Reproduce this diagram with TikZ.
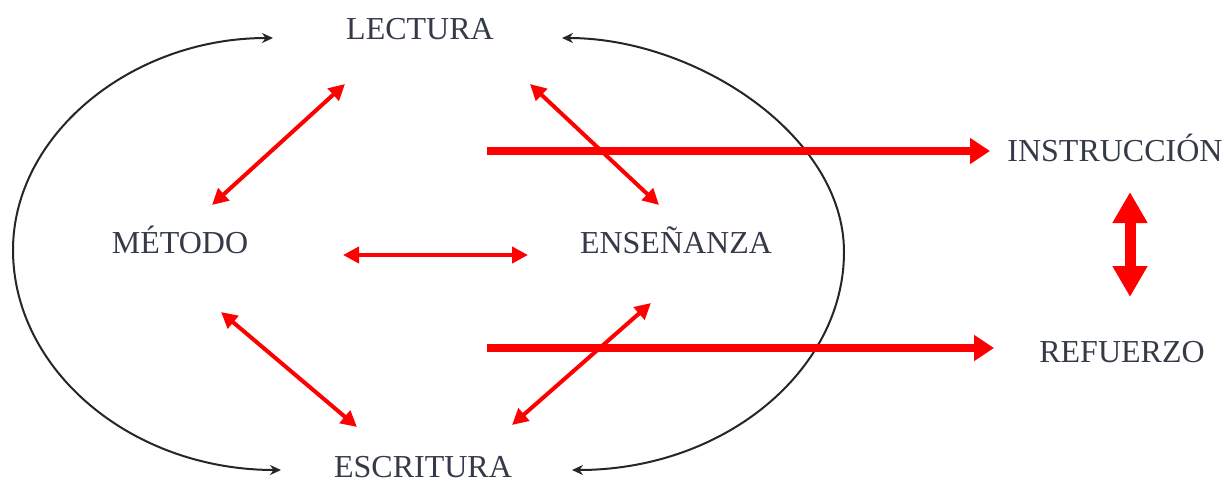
\documentclass[tikz,border=0pt]{standalone}
\usepackage{fontspec}
\setmainfont{Liberation Serif}
\usetikzlibrary{arrows.meta}
\definecolor{txt}{HTML}{343A48}
\definecolor{rd}{HTML}{FF0000}
\begin{document}
\begin{tikzpicture}[x=0.5pt,y=-0.5pt,
  lbl/.style={font=\fontsize{16}{18}\selectfont, text=txt, inner sep=0pt, anchor=base},
  rthin/.style={draw=rd, line width=2pt, {Triangle[length=8pt,width=8pt]}-{Triangle[length=8pt,width=8pt]}},
  rthick/.style={draw=rd, line width=4pt, -{Triangle[length=10pt,width=12.5pt]}},
  rbig/.style={draw=rd, line width=5.5pt, {Triangle[length=15.5pt,width=16.5pt]}-{Triangle[length=15.5pt,width=16.5pt]}},
  blk/.style={draw=black!85, line width=1pt, {Stealth[length=5.5pt,width=5pt]}-{Stealth[length=5.5pt,width=5pt]}},
]
\useasboundingbox (0,0) rectangle (1228,483);
\fill[white] (0,0) rectangle (1228,483);

% labels
\node[lbl] (lec) at (420,39) {LECTURA};
\node[lbl] (met) at (180,253) {MÉTODO};
\node[lbl] (ens) at (676,253) {ENSEÑANZA};
\node[lbl] (esc) at (423,477) {ESCRITURA};
\node[lbl] (ins) at (1115,161) {INSTRUCCIÓN};
\node[lbl] (ref) at (1122,362) {REFUERZO};

% connector end points
\coordinate (lecL) at (273,38);
\coordinate (lecR) at (562,38);
\coordinate (escL) at (281,470);
\coordinate (escR) at (572,470);
\coordinate (lecA) at (345,84);
\coordinate (metA) at (212,205);
\coordinate (lecB) at (530,84);
\coordinate (ensB) at (659,205);
\coordinate (metC) at (343,255);
\coordinate (ensC) at (528,255);
\coordinate (metD) at (221,312);
\coordinate (escD) at (357,427);
\coordinate (ensE) at (651,303);
\coordinate (escE) at (512,425);
\coordinate (insS) at (487,151);
\coordinate (insT) at (990,151);
\coordinate (refS) at (487,348);
\coordinate (refT) at (994,348);
\coordinate (insV) at (1130,192);
\coordinate (refV) at (1130,297);

% black cycles
\draw[blk] (lecL) .. controls (131,38) and (13,135) .. (13,250)
  .. controls (13,370) and (131,470) .. (escL);
\draw[blk] (lecR) .. controls (695,38) and (844,135) .. (844,252)
  .. controls (844,370) and (725,470) .. (escR);

% red thin double arrows
\draw[rthin] (lecA) -- (metA);
\draw[rthin] (lecB) -- (ensB);
\draw[rthin] (metC) -- (ensC);
\draw[rthin] (metD) -- (escD);
\draw[rthin] (ensE) -- (escE);

% thick arrows
\draw[rthick] (insS) -- (insT);
\draw[rthick] (refS) -- (refT);
\draw[rbig] (insV) -- (refV);
\end{tikzpicture}
\end{document}
